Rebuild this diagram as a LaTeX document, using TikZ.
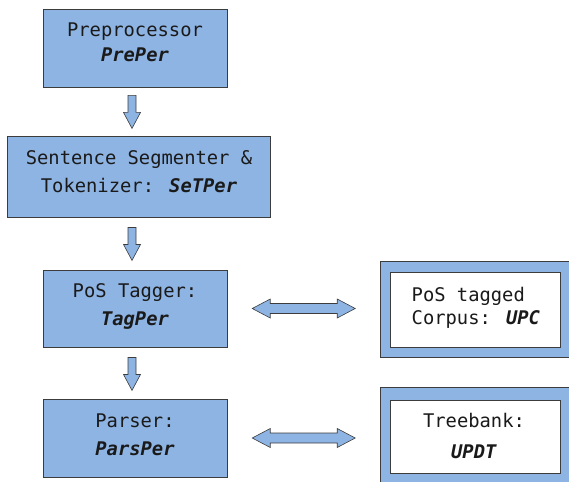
\documentclass[tikz,border=0pt]{standalone}
\usepackage{fontspec}
\usetikzlibrary{calc}
\setmainfont{DejaVu Sans Mono}[
  ItalicFont=* Oblique,
  BoldFont=* Bold,
  BoldItalicFont=* Bold Oblique]
\definecolor{boxblue}{HTML}{8EB4E3}
\definecolor{edgegray}{HTML}{3C3C3C}
\definecolor{inkgray}{HTML}{1A1A1A}
\newcommand{\tool}[1]{\textbf{\textit{#1}}}
\tikzset{
  x=1pt, y=1pt,
  stagebox/.style={draw=edgegray, line width=0.9pt, fill=boxblue, inner sep=0pt},
  framebox/.style={draw=edgegray, line width=0.9pt, fill=boxblue, inner sep=0pt},
  databox/.style={draw=edgegray, line width=0.9pt, fill=white, inner sep=0pt},
  boxline/.style={anchor=base, inner sep=0pt, text=inkgray,
    font=\fontsize{18.8}{24}\selectfont},
  blockarrow/.style={draw=edgegray, line width=0.6pt, fill=boxblue, line join=miter},
  pics/downarrow/.style={code={
    \draw[blockarrow] (-4,0) -- (4,0) -- (4,-17) -- (8.5,-17) -- (0,-33)
      -- (-8.5,-17) -- (-4,-17) -- cycle;}},
  pics/twowayarrow/.style={code={
    \draw[blockarrow] (-51.5,0) -- (-33.5,9.5) -- (-33.5,5) -- (33.5,5)
      -- (33.5,9.5) -- (51.5,0) -- (33.5,-9.5) -- (33.5,-5) -- (-33.5,-5)
      -- (-33.5,-9.5) -- cycle;}}
}
\begin{document}
\begin{tikzpicture}
\useasboundingbox (0,0) rectangle (569,-481);
\clip (0,0) rectangle (569,-481);

% pipeline stages
\node[stagebox, minimum width=184, minimum height=78] (pre) at (135,-48) {};
\node[boxline] (preA) at (135,-36.7) {Preprocessor};
\node[boxline] (preB) at (135,-61.7) {\tool{PrePer}};

\node[stagebox, minimum width=263, minimum height=81] (seg) at (138.5,-176.5) {};
\node[boxline] (segA) at (139,-164.3) {Sentence Segmenter \&};
\node[boxline] (segB) at (139,-192.7) {Tokenizer: \tool{SeTPer}};

\node[stagebox, minimum width=184, minimum height=77] (tag) at (135,-308.5) {};
\node[boxline] (tagA) at (135,-297.7) {PoS Tagger:};
\node[boxline] (tagB) at (135,-325.7) {\tool{TagPer}};

\node[stagebox, minimum width=184, minimum height=78] (pars) at (135,-438) {};
\node[boxline] (parsA) at (135,-427.7) {Parser:};
\node[boxline] (parsB) at (135,-455) {\tool{ParsPer}};

% data resources
\node[framebox, anchor=north west, minimum width=230, minimum height=96] (upcframe) at (380,-261) {};
\node[databox, anchor=north west, minimum width=170, minimum height=75] (upc) at (390,-272) {};
\node[boxline, anchor=base west] (upcA) at (411.5,-301) {PoS tagged};
\node[boxline, anchor=base west] (upcB) at (411.5,-324) {Corpus: \tool{UPC}};

\node[framebox, anchor=north west, minimum width=230, minimum height=120] (updtframe) at (380,-387) {};
\node[databox, anchor=north west, minimum width=170, minimum height=73] (updt) at (390,-400) {};
\node[boxline] (updtA) at (474,-427.7) {Treebank:};
\node[boxline] (updtB) at (474,-458.3) {\tool{UPDT}};

% flow between stages
\pic at ($(pre.south)+(-3,-8)$) {downarrow};
\pic at ($(seg.south -| pre.south)+(-3,-10)$) {downarrow};
\pic at ($(tag.south)+(-3,-10)$) {downarrow};

% exchange with the resources
\pic at ($(tag.east)!0.5!(upcframe.west |- tag.east)$) {twowayarrow};
\pic at ($(pars.east)!0.5!(updtframe.west |- pars.east)$) {twowayarrow};
\end{tikzpicture}
\end{document}
